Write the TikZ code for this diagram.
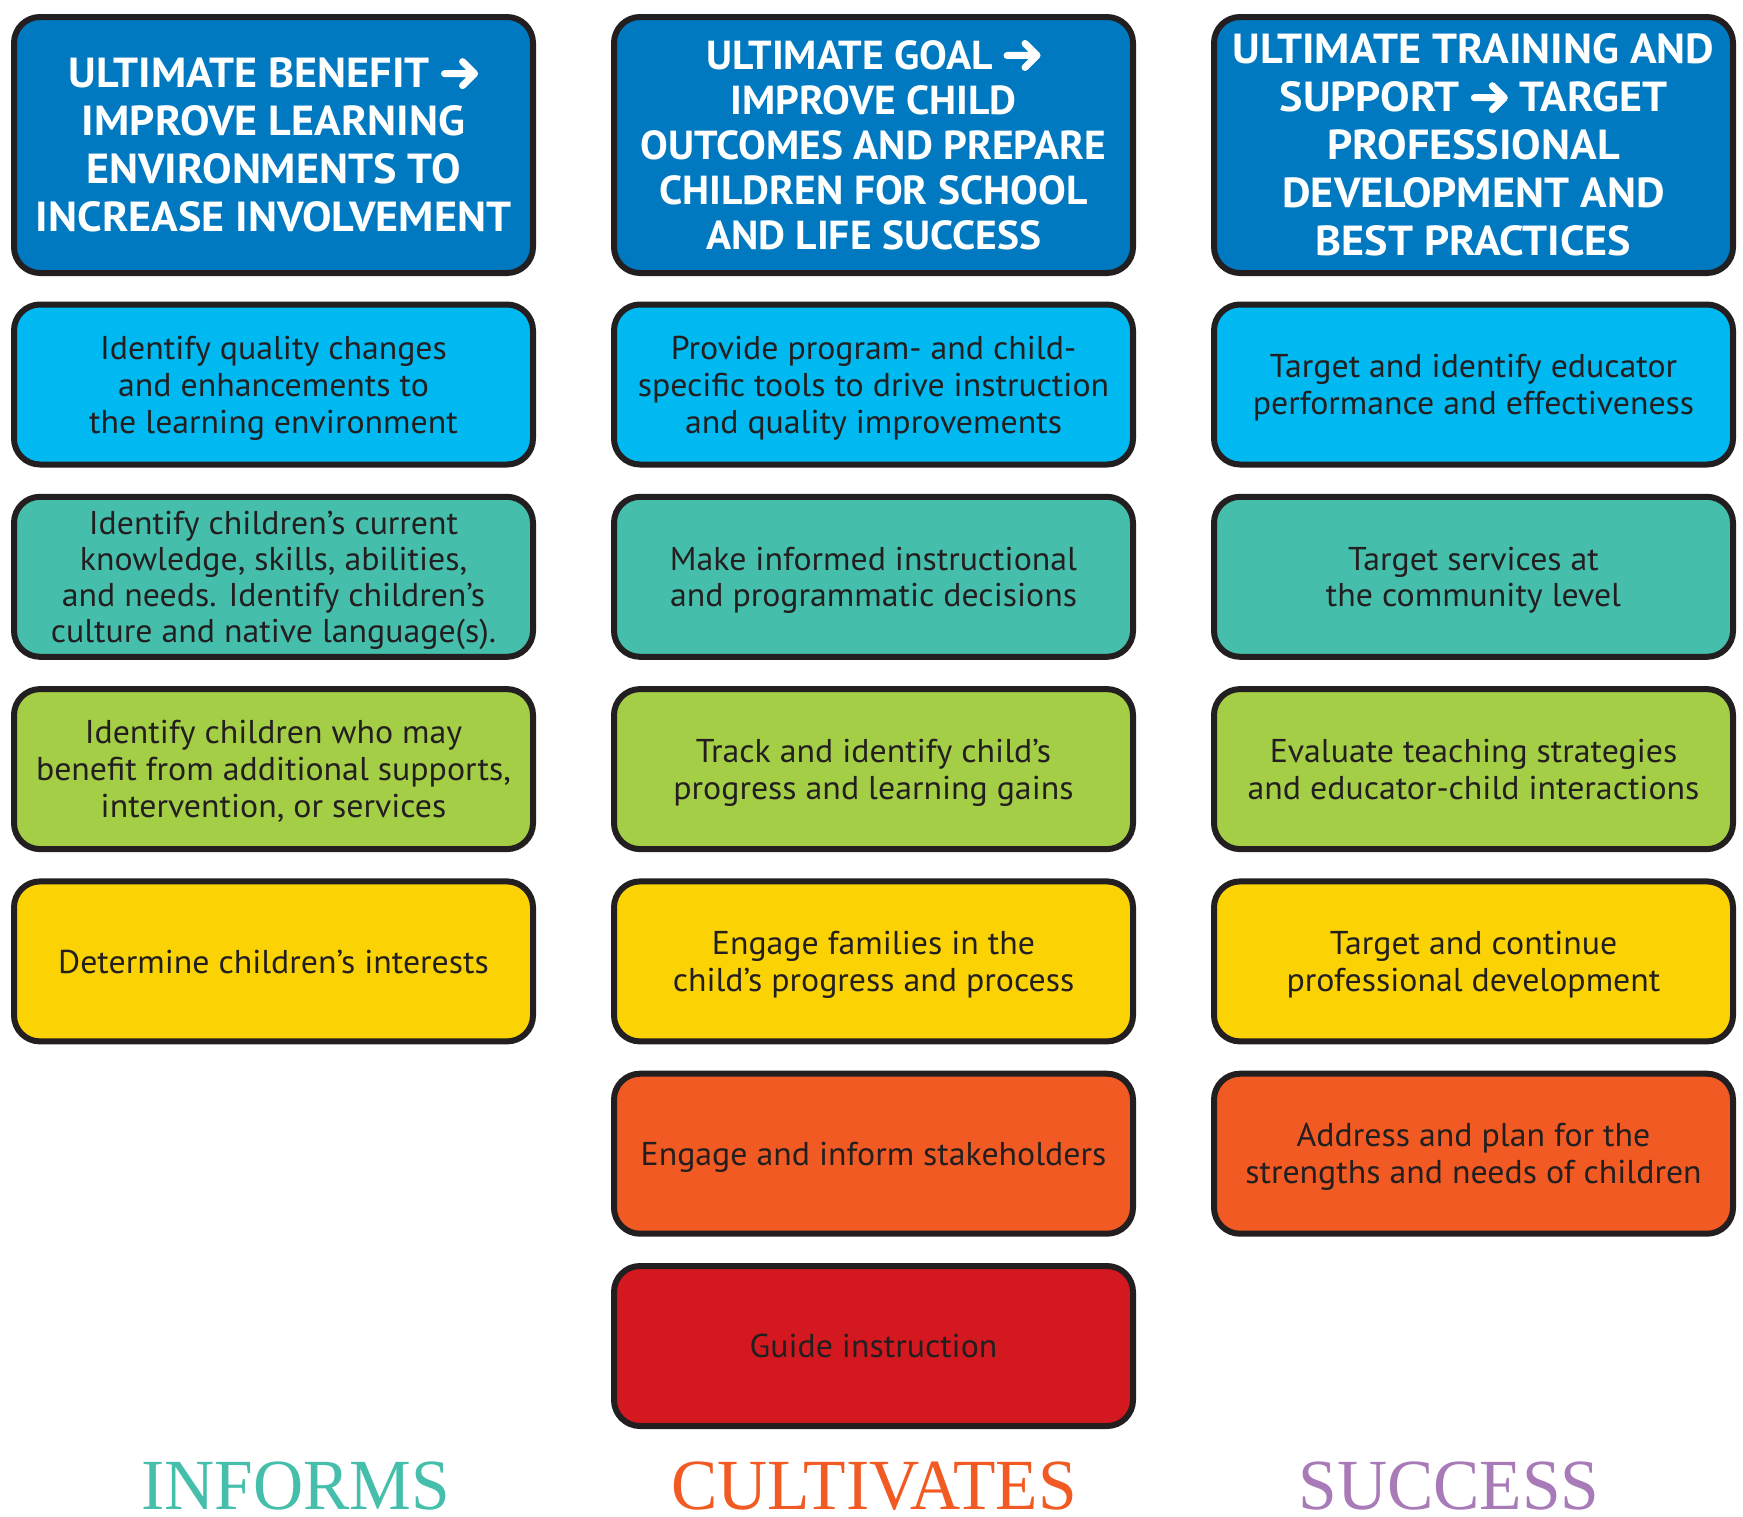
\documentclass[tikz,border=0pt]{standalone}
\usepackage{fontspec}
\setmainfont{PT Sans}
\newfontfamily\labelfont{Liberation Serif}
\definecolor{boxline}{HTML}{231F20}
\definecolor{textdark}{HTML}{231F20}
\definecolor{cHead}{HTML}{0079C1}
\definecolor{cCyan}{HTML}{00B9F0}
\definecolor{cTeal}{HTML}{45BFAB}
\definecolor{cGreen}{HTML}{A4CE45}
\definecolor{cYellow}{HTML}{FBD304}
\definecolor{cOrange}{HTML}{F15A22}
\definecolor{cRed}{HTML}{D4181F}
\definecolor{lTeal}{HTML}{45BFAB}
\definecolor{lOrange}{HTML}{F15A22}
\definecolor{lPurple}{HTML}{A87BB8}
\newcommand\harrow{\tikz[baseline=0pt,sharp corners]{\draw[white,line width=7pt,line cap=round,line join=round,sharp corners] (0pt,14pt) -- (30pt,14pt) (18pt,26pt) -- (30pt,14pt) -- (18pt,2pt);}}
\tikzset{
  box/.style={draw=boxline, line width=6pt, rounded corners=26pt, minimum width=519pt, minimum height=160pt, align=center, text=textdark, inner sep=0pt, text depth=0pt, font=\fontsize{33}{37}\selectfont\addfontfeature{FakeStretch=1.025}},
  headbox/.style={box, fill=cHead, minimum height=256pt, text=white, text depth={}, font=\fontsize{42}{48}\selectfont\bfseries\addfontfeature{FakeStretch=1.05}},
  cyanbox/.style={box, fill=cCyan},
  tealbox/.style={box, fill=cTeal, font=\fontsize{33}{36}\selectfont\addfontfeature{FakeStretch=1.025}},
  greenbox/.style={box, fill=cGreen},
  yellowbox/.style={box, fill=cYellow},
  orangebox/.style={box, fill=cOrange},
  redbox/.style={box, fill=cRed},
  bottomlabel/.style={anchor=base, inner sep=0pt, font=\labelfont\fontsize{72}{72}\selectfont}
}
\begin{document}
\begin{tikzpicture}[x=1pt,y=-1pt]
\useasboundingbox (0,0) rectangle (1743,1516);
% column 1
\node[headbox] (h1) at (273.5,145) {ULTIMATE BENEFIT \harrow\\IMPROVE LEARNING\\ENVIRONMENTS TO\\INCREASE INVOLVEMENT};
\node[cyanbox] (a1) at (273.5,384.5) {Identify quality changes\\and enhancements to\\the learning environment};
\node[tealbox] (a2) at (273.5,576.8) {Identify children’s current\\knowledge, skills, abilities,\\and needs. Identify children’s\\culture and native language(s).};
\node[greenbox] (a3) at (273.5,769.1) {Identify children who may\\benefit from additional supports,\\intervention, or services};
\node[yellowbox] (a4) at (273.5,961.4) {Determine children’s interests};
% column 2
\node[headbox, font=\fontsize{40.5}{45}\selectfont\bfseries\addfontfeature{FakeStretch=1.025}] (h2) at (873.5,145) {ULTIMATE GOAL \harrow\\IMPROVE CHILD\\OUTCOMES AND PREPARE\\CHILDREN FOR SCHOOL\\AND LIFE SUCCESS};
\node[cyanbox] (b1) at (873.5,384.5) {Provide program- and child-\\specific tools to drive instruction\\and quality improvements};
\node[tealbox] (b2) at (873.5,576.8) {Make informed instructional\\and programmatic decisions};
\node[greenbox] (b3) at (873.5,769.1) {Track and identify child’s\\progress and learning gains};
\node[yellowbox] (b4) at (873.5,961.4) {Engage families in the\\child’s progress and process};
\node[orangebox] (b5) at (873.5,1153.7) {Engage and inform stakeholders};
\node[redbox] (b6) at (873.5,1346) {Guide instruction};
% column 3
\node[headbox] (h3) at (1473.5,145) {ULTIMATE TRAINING AND\\SUPPORT \harrow{} TARGET\\PROFESSIONAL\\DEVELOPMENT AND\\BEST PRACTICES};
\node[cyanbox] (c1) at (1473.5,384.5) {Target and identify educator\\performance and effectiveness};
\node[tealbox] (c2) at (1473.5,576.8) {Target services at\\the community level};
\node[greenbox] (c3) at (1473.5,769.1) {Evaluate teaching strategies\\and educator-child interactions};
\node[yellowbox] (c4) at (1473.5,961.4) {Target and continue\\professional development};
\node[orangebox] (c5) at (1473.5,1153.7) {Address and plan for the\\strengths and needs of children};
% bottom labels
\node[bottomlabel, text=lTeal] (l1) at (296,1509) {\scalebox{0.965}[1]{INFORMS}};
\node[bottomlabel, text=lOrange] (l2) at (874,1509) {\scalebox{0.965}[1]{CULTIVATES}};
\node[bottomlabel, text=lPurple] (l3) at (1449,1509) {\scalebox{0.965}[1]{SUCCESS}};
\end{tikzpicture}
\end{document}
